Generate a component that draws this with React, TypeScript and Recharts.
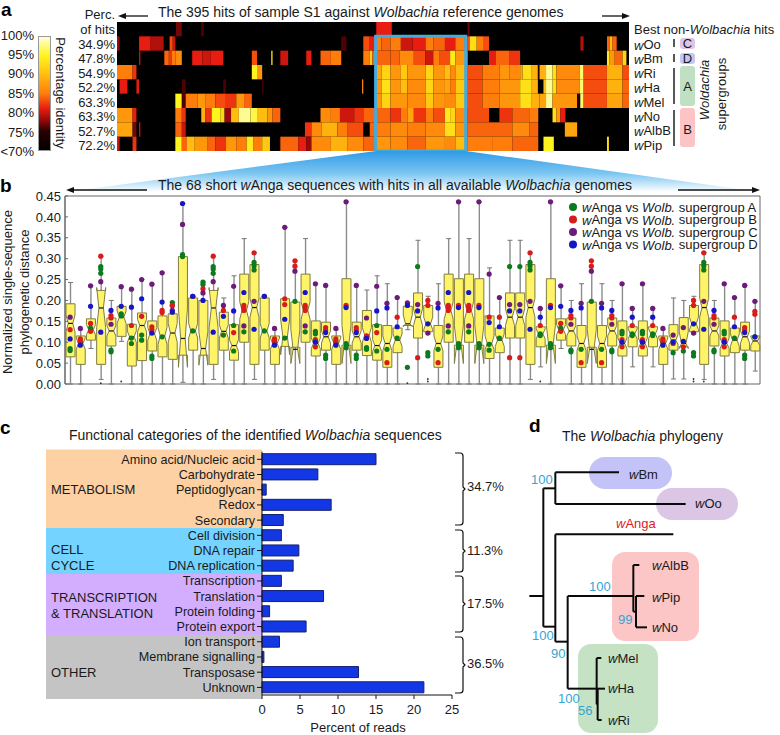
import React from 'react';
import { Bar, BarChart, Cell, ComposedChart, ReferenceArea, ReferenceLine, Scatter, XAxis, YAxis } from 'recharts';

const FONT = '"Liberation Sans", Arial, sans-serif';

// ---- panel a: runs of [first hit, last hit, % identity]
const hitsBest = [[45.5, 50, 77], [65, 67, 76], [200, 212, 81], [270.5, 272, 77]];
const hitsOo = [[0, 2, 78], [17, 26, 81], [26, 36, 79], [40.6, 43, 83], [43, 45, 80], [173, 177, 76], [190, 195, 83], [195, 200, 81], [200, 204, 85], [204, 211, 84], [211, 219, 85], [219, 228, 80], [228, 238, 81], [238, 244, 85], [244, 253, 84], [253, 261, 81], [261, 268, 85], [268, 270.5, 86], [270.5, 272, 83], [272, 277.5, 93], [277.5, 283, 85], [283, 287, 83], [357.5, 360, 79], [378, 380, 84], [380, 382, 90], [382, 385.5, 84]];
const hitsBm = [[17, 18, 80], [36.5, 40, 84], [40, 42, 82], [42, 45, 85], [45, 50, 86], [58, 66, 81], [66, 72, 80], [72, 82, 81], [104, 108, 83], [119, 120, 94], [126, 132, 80], [146, 150, 81], [157, 165, 84], [165, 173, 85], [190, 195, 85], [195, 197, 92], [197, 200, 84], [200, 211, 84], [211, 218, 84], [218, 229, 86], [229, 238, 83], [238, 244, 80], [244, 249, 85], [249, 257, 83], [257, 261, 94], [261, 270.5, 87], [287, 292, 81], [292, 303, 84], [303, 311, 82], [378, 380, 94], [380, 384, 87], [384, 390, 84], [390, 393, 92]];
const hitsRi = [[0, 12, 85], [12, 15, 82], [104, 108, 95], [108, 112, 87], [200, 204, 88], [204, 211, 92], [211, 219, 87], [219, 224, 91], [224, 238, 87], [238, 244, 92], [244, 253, 87], [253, 257, 90], [257, 261, 86], [261, 270.5, 90], [270.5, 282, 83], [282, 295, 85], [295, 303, 87], [303, 311, 86], [311, 313, 88], [313, 320, 93], [320, 324.7, 89], [324.7, 326, 74], [326, 331, 89], [331, 336, 98], [336, 339, 93], [339, 357, 86], [357, 360, 97], [360, 378, 83], [378, 390, 89], [390, 395, 83]];
const hitsHa = [[2, 8, 81], [15, 17, 81], [50, 53, 76], [82, 84, 76], [112, 113, 76], [189, 190, 85], [200, 204, 87], [204, 211, 93], [211, 219, 87], [219, 224, 90], [224, 238, 86], [238, 244, 92], [244, 253, 87], [253, 257, 88], [257, 261, 85], [261, 270.5, 91], [270.5, 282, 83], [282, 295, 85], [295, 311, 87], [311, 320, 93], [320, 324.7, 89], [329, 331, 90], [331, 336, 98], [336, 339, 93], [339, 357, 86], [357, 360, 97], [360, 378, 83], [378, 390, 89], [390, 395, 84]];
const hitsMel = [[45, 50, 95], [50, 53, 76], [53, 62, 85], [62, 68, 87], [68, 76, 85], [76, 84, 83], [84, 92, 82], [92, 98, 87], [98, 104, 84], [200, 204, 87], [204, 211, 92], [211, 224, 87], [224, 238, 86], [238, 244, 91], [244, 253, 87], [253, 261, 86], [261, 270.5, 91], [270.5, 282, 83], [282, 295, 85], [295, 311, 87], [311, 320, 93], [320, 326, 89], [326, 331, 88], [331, 336, 98], [336, 355, 87], [355, 357.4, 74], [357.4, 360, 97], [360, 378, 83], [378, 390, 88], [390, 395, 84]];
const hitsNo = [[0, 12, 87], [12, 15, 81], [45, 50, 85], [50, 53, 82], [65, 68, 89], [68, 73, 82], [73, 80, 95], [80, 83, 92], [83, 88, 78], [88, 94, 90], [94, 103, 98], [103, 108, 96], [108, 116, 90], [116, 120, 87], [120, 126, 84], [157, 165, 86], [165, 172, 85], [172, 183, 80], [183, 190, 82], [190, 200, 84], [200, 211, 84], [211, 219, 82], [219, 224, 85], [224, 229, 88], [229, 238, 82], [238, 244, 85], [244, 253, 83], [253, 257, 94], [257, 261, 92], [261, 270.5, 86], [270.5, 287, 83], [295, 305, 82], [305, 318, 84], [318, 325, 85], [336, 339, 93], [339, 342, 87], [342, 346, 81]];
const hitsAlbB = [[0, 12, 88], [12, 15, 77], [17, 18, 80], [45, 50, 84], [50, 53, 80], [145, 150, 82], [150, 158, 86], [158, 170, 89], [170, 178, 85], [178, 190, 83], [195, 200, 84], [200, 211, 85], [211, 224, 86], [224, 238, 85], [238, 253, 86], [253, 261, 93], [261, 270.5, 87], [270.5, 287, 84], [287, 305, 84], [305, 318, 86], [318, 325, 84], [345.5, 355, 88]];
const hitsPip = [[0, 2, 80], [12, 15, 82], [45, 50, 95], [50, 54, 84], [54, 60, 90], [60, 70, 87], [70, 76, 84], [76, 84, 82], [84, 92, 87], [92, 100, 85], [100, 105, 94], [105, 112, 85], [112, 118, 91], [126, 140, 84], [140, 146, 81], [146, 150, 78], [150, 165, 86], [165, 178, 89], [178, 190, 86], [190, 200, 84], [200, 211, 87], [211, 224, 86], [224, 238, 84], [238, 253, 87], [253, 261, 86], [261, 270.5, 90], [270.5, 290, 85], [290, 305, 85], [305, 325, 84], [329, 337, 95], [378, 379.5, 93]];
const heatRows = [hitsBest, hitsOo, hitsBm, hitsRi, hitsHa, hitsMel, hitsNo, hitsAlbB, hitsPip];
const identityStops = [[70, [0, 0, 0]], [75, [40, 0, 0]], [78, [150, 10, 10]], [81, [232, 28, 16]], [85, [255, 125, 10]], [90, [255, 190, 15]], [95, [255, 245, 30]], [100, [255, 255, 225]]];
const colorTicks = ['100%', '95%', '90%', '85%', '80%', '75%', '<70%'];
const percOfHits = ['34.9%', '47.8%', '54.9%', '52.2%', '63.3%', '63.3%', '52.7%', '72.2%'];
const genomes = ['Oo', 'Bm', 'Ri', 'Ha', 'Mel', 'No', 'AlbB', 'Pip'];

// ---- panel b: [whisker low, q1, notch low, median, notch high, q3, whisker high]
const boxStats: Record<string, number[]> = {
  b1: [0, 0.065, 0.125, 0.145, 0.165, 0.192, 0.243], b2: [0, 0.047, 0.083, 0.097, 0.11, 0.115, 0.13],
  b3: [0.085, 0.105, 0.118, 0.13, 0.142, 0.156, 0.235], b4: [0.011, 0.047, 0.135, 0.182, 0.231, 0.224, 0.306],
  b5: [0, 0.091, 0.115, 0.127, 0.14, 0.158, 0.2], b6: [0.102, 0.114, 0.145, 0.16, 0.175, 0.186, 0.233],
  b7: [0, 0.043, 0.1, 0.113, 0.127, 0.143, 0.227], b8: [0, 0.056, 0.125, 0.14, 0.155, 0.17, 0.25],
  b9: [0, 0.079, 0.105, 0.12, 0.135, 0.151, 0.239], b10: [0, 0.065, 0.095, 0.115, 0.135, 0.163, 0.266],
  b11: [0, 0.059, 0.1, 0.122, 0.145, 0.168, 0.195], b12: [0.004, 0.069, 0.04, 0.109, 0.18, 0.305, 0.432],
  b13: [0, 0.081, 0.11, 0.127, 0.145, 0.206, 0.21], b14: [0, 0.069, 0.045, 0.085, 0.125, 0.2, 0.244],
  b16: [0, 0.081, 0.11, 0.126, 0.142, 0.172, 0.206], b17: [0, 0.057, 0.078, 0.092, 0.106, 0.142, 0.259],
  b18: [0, 0.1, 0.155, 0.176, 0.197, 0.263, 0.348], b19: [0.011, 0.047, 0.16, 0.183, 0.205, 0.286, 0.314],
  b22: [0, 0.09, 0.07, 0.113, 0.155, 0.204, 0.375], b23: [0, 0.088, 0.049, 0.083, 0.13, 0.196, 0.295],
  b25: [0, 0.067, 0.085, 0.097, 0.11, 0.151, 0.24], b26: [0, 0.081, 0.098, 0.113, 0.127, 0.148, 0.236],
  b28: [0, 0.093, 0.049, 0.093, 0.14, 0.252, 0.436], b30: [0, 0.068, 0.1, 0.117, 0.135, 0.176, 0.225],
  b32: [0, 0.04, 0.08, 0.097, 0.115, 0.14, 0.24], b33: [0, 0.075, 0.09, 0.105, 0.12, 0.134, 0.207],
  b34: [0.13, 0.14, 0.137, 0.144, 0.165, 0.186, 0.194], b35: [0, 0.11, 0.14, 0.16, 0.18, 0.218, 0.344],
  b36: [0.12, 0.125, 0.13, 0.144, 0.16, 0.188, 0.21], b42: [0, 0.061, 0.082, 0.097, 0.115, 0.163, 0.278],
  b47: [0.041, 0.089, 0.108, 0.12, 0.132, 0.137, 0.181], b60: [0.012, 0.081, 0.095, 0.105, 0.118, 0.142, 0.206],
  b61: [0.012, 0.089, 0.085, 0.097, 0.125, 0.159, 0.2], b68: [0.031, 0.079, 0.092, 0.103, 0.113, 0.115, 0.198],
};
const groupA: Record<string, number[]> = { b1: [0.085, 0.08], b2: [0.1], b3: [0.134], b4: [0.281, 0.275, 0.265], b5: [0.081, 0.077], b6: [0.168, 0.163], b7: [0.11, 0.097], b8: [0.117, 0.105], b9: [0.067, 0.061], b10: [0.113], b11: [0.195, 0.188], b12: [0.31, 0.305], b13: [0.127], b14: [0.244, 0.238], b16: [0.117], b17: [0.14, 0.079], b18: [0.125], b19: [0.291, 0.283, 0.273], b22: [0.11], b23: [0.198], b25: [0.126, 0.12], b26: [0.069, 0.061], b28: [0.097, 0.087], b30: [0.087, 0.083], b32: [0.083], b33: [0.11], b34: [0.04], b35: [0.281], b36: [0.075, 0.067], b42: [0.095, 0.081], b47: [0.12, 0.116], b60: [0.075], b61: [0.079], b68: [0.113] };
const groupB: Record<string, number[]> = { b1: [0.13], b2: [0.108, 0.103], b3: [0.145, 0.126], b4: [0.306], b5: [0.164, 0.158], b7: [0.14], b8: [0.162], b9: [0.137, 0.13], b10: [0.176, 0.171], b11: [0.188], b14: [0.228], b16: [0.176], b17: [0.123], b18: [0.188, 0.183, 0.176], b19: [0.314], b22: [0.204, 0.19], b23: [0.295, 0.282], b25: [0.106, 0.089], b26: [0.135, 0.129], b28: [0.188], b30: [0.115], b32: [0.051], b33: [0.16], b35: [0.063], b36: [0.2, 0.188], b42: [0.16], b47: [0.14], b60: [0.097], b61: [0.089], b68: [0.174, 0.167] };
const groupC: Record<string, number[]> = { b1: [0.16], b2: [0.133], b3: [0.235], b4: [0.245], b5: [0.143], b6: [0.233], b7: [0.227], b8: [0.25], b9: [0.239], b10: [0.266], b11: [0.176], b12: [0.382], b13: [0.21], b14: [0.218], b16: [0.188], b17: [0.234], b18: [0.139], b19: [0.198], b22: [0.375], b23: [0.27], b25: [0.24], b26: [0.236], b28: [0.436], b30: [0.158], b32: [0.193], b33: [0.207], b34: [0.194], b35: [0.19], b36: [0.122], b42: [0.263], b47: [0.181], b60: [0.117], b61: [0.135], b68: [0.198] };
const groupD: Record<string, number[]> = { b1: [0.108], b2: [0.093], b3: [0.186], b4: [0.124], b5: [0.176], b6: [0.186], b7: [0.184], b8: [0.204], b9: [0.122], b10: [0.196], b11: [0.172], b12: [0.432], b13: [0.21], b14: [0.2], b16: [0.162], b17: [0.175], b18: [0.219], b19: [0.131], b22: [0.155], b25: [0.1], b26: [0.123], b28: [0.183], b30: [0.109], b32: [0.182], b33: [0.137], b34: [0.188], b35: [0.175], b36: [0.144], b42: [0.147], b47: [0.16], b60: [0.1], b61: [0.102], b68: [0.113] };
const boxOrder = ['b1', 'b2', 'b3', 'b4', 'b5', 'b6', 'b7', 'b8', 'b9', 'b10', 'b11', 'b12', 'b13', 'b14', 'b4', 'b16', 'b17', 'b18', 'b19', 'b13', 'b2', 'b22', 'b23', 'b18', 'b25', 'b26', 'b2', 'b28', 'b26', 'b30', 'b17', 'b32', 'b33', 'b34', 'b35', 'b36', 'b32', 'b18', 'b28', 'b18', 'b28', 'b42', 'b33', 'b35', 'b35', 'b19', 'b47', 'b28', 'b3', 'b5', 'b32', 'b23', 'b32', 'b5', 'b25', 'b47', 'b25', 'b47', 'b2', 'b60', 'b61', 'b36', 'b19', 'b5', 'b25', 'b33', 'b26', 'b68'];
const fliers = [[4, 0.002], [6, 0.006], [34, 0.002], [36, 0.012], [36, 0.006], [47, 0.006], [62, 0.012], [62, 0.006], [63, 0.006]];
const distanceTicks = [0, 0.05, 0.1, 0.15, 0.2, 0.25, 0.3, 0.35, 0.4, 0.45];
const legendGroups = ['A', 'B', 'C', 'D'];
const groupColors = ['#0c7a1e', '#d81c1c', '#6d1b7b', '#1616c8'];

// ---- panel c
const funcNames = ['Amino acid/Nucleic acid', 'Carbohydrate', 'Peptidoglycan', 'Redox', 'Secondary', 'Cell division', 'DNA repair', 'DNA replication', 'Transcription', 'Translation', 'Protein folding', 'Protein export', 'Ion transport', 'Membrane signalling', 'Transposase', 'Unknown'];
const funcValues = [15, 7.35, 0.55, 9.1, 2.8, 2.55, 4.85, 4.1, 2.55, 8.1, 1.0, 5.8, 2.3, 0.25, 12.7, 21.3];
const readTicks = [0, 5, 10, 15, 20, 25];

// ---- panel d: branches as [x1, y1, x2, y2] in tree units
const branches = [[58, 558, 100, 558], [100, 235, 100, 650], [100, 235, 136, 235], [136, 187, 136, 282], [136, 187, 327, 187], [136, 282, 527, 282], [100, 650, 136, 650], [136, 373, 136, 695], [136, 373, 490, 373], [136, 695, 173, 695], [173, 558, 173, 836], [173, 558, 370, 558], [370, 465, 370, 605], [370, 465, 388, 465], [370, 605, 378, 605], [378, 558, 378, 652], [378, 558, 403, 558], [378, 652, 411, 652], [173, 836, 260, 836], [260, 744, 260, 883], [260, 744, 274, 744], [260, 836, 285, 836], [260, 883, 263, 883], [263, 836, 263, 930], [263, 930, 275, 930]];
const heatExtent = [{ x: 0, y: 0 }, { x: 395, y: 9 }];
const treeExtent = [{ x: 0, y: 0 }, { x: 810, y: 975 }];

const heatColor = (v: number) => {
  for (let i = 1; i < identityStops.length; i++) {
    const [v0, c0] = identityStops[i - 1] as [number, number[]];
    const [v1, c1] = identityStops[i] as [number, number[]];
    if (v <= v1) {
      const t = (v - v0) / (v1 - v0);
      return `rgb(${c0.map((c, k) => Math.round(c + (c1[k] - c) * t)).join(',')})`;
    }
  }
  return '#ffffe1';
};

const boxes = boxOrder.map((name, idx) => {
  const [lo, q1, ciLo, med, ciHi, q3, hi] = boxStats[name];
  return { i: idx + 1, lo, q1, ciLo, med, ciHi, q3, hi };
});
const pointsOf = (group: Record<string, number[]>) =>
  boxOrder.flatMap((name, idx) => (group[name] || []).map(v => ({ i: idx + 1, v })));
const funcData = funcNames.map((name, k) => ({ name, value: funcValues[k] }));

const BoxShape = (props: any) => {
  const { x, y, width, height, payload: d } = props;
  const py = (v: number) => y + (height * (d.q3 - v)) / (d.q3 - d.q1);
  const cx = x + width / 2;
  const l = x, r = x + width, nl = cx - width / 4, nr = cx + width / 4;
  const path = `M${l},${py(d.q1)} L${r},${py(d.q1)} L${r},${py(d.ciLo)} L${nr},${py(d.med)} L${r},${py(d.ciHi)} L${r},${py(d.q3)} L${l},${py(d.q3)} L${l},${py(d.ciHi)} L${nl},${py(d.med)} L${l},${py(d.ciLo)} Z`;
  return (
    <g>
      <line x1={cx} x2={cx} y1={py(d.hi)} y2={py(d.lo)} stroke="#8c8c8c" strokeWidth={1.4} />
      <line x1={cx - 2.5} x2={cx + 2.5} y1={py(d.hi)} y2={py(d.hi)} stroke="#777" />
      <line x1={cx - 2.5} x2={cx + 2.5} y1={py(d.lo)} y2={py(d.lo)} stroke="#777" />
      <path d={path} fill="#fff467" stroke="#7f7c40" strokeWidth={1} />
      <line x1={nl} x2={nr} y1={py(d.med)} y2={py(d.med)} stroke="#111" strokeWidth={1.2} />
    </g>
  );
};

const Dot = (color: string, r = 2.6) => (props: any) => <circle cx={props.cx} cy={props.cy} r={r} fill={color} />;
const NoMark = () => <g />;

const T = ({ x, y, size = 13, anchor = 'start', children, ...rest }: any) => (
  <text x={x} y={y} fontSize={size} textAnchor={anchor} dominantBaseline="central" fill="#1a1a1a" {...rest}>{children}</text>
);
const It = ({ children }: any) => <tspan fontStyle="italic">{children}</tspan>;
const W = ({ name }: any) => <><It>w</It>{name}</>;

const brace = (y1: number, y2: number) => {
  const m = (y1 + y2) / 2;
  return `M455,${y1} h5 q3,0 3,3 V${m - 2} l2,2 l-2,2 V${y2 - 3} q0,3 -3,3 h-5`;
};
const Arrow = ({ x1, x2, y }: any) => {
  const dir = x2 > x1 ? 1 : -1;
  return (
    <g>
      <line x1={x1} x2={x2 - dir * 4} y1={y} y2={y} stroke="#111" strokeWidth={1.3} />
      <path d={`M${x2},${y} l${-dir * 8},-3 v6 z`} fill="#111" />
    </g>
  );
};

const abs = (left: number, top: number, z = 1): React.CSSProperties => ({ position: 'absolute', left, top, zIndex: z });

export default function App() {
  return (
    <div style={{ position: 'absolute', left: 0, top: 0, width: 780, height: 735, background: '#fff', fontFamily: FONT, overflow: 'hidden' }}>
      {/* backgrounds */}
      <svg width={780} height={735} style={abs(0, 0, 0)}>
        <defs>
          <linearGradient id="funnel" x1="0" y1="0" x2="0" y2="1">
            <stop offset="0" stopColor="#2f9be6" />
            <stop offset="0.55" stopColor="#7cc6f2" />
            <stop offset="1" stopColor="#ffffff" />
          </linearGradient>
          <linearGradient id="cbar" x1="0" y1="0" x2="0" y2="1">
            {[100, 95, 90, 85, 81, 78, 75, 70].map(v => <stop key={v} offset={(100 - v) / 30} stopColor={heatColor(v)} />)}
          </linearGradient>
        </defs>
        <polygon points="376,151 466,151 760,192 65,192" fill="url(#funnel)" />
        <rect x={38.5} y={36.5} width={12} height={114} fill="url(#cbar)" stroke="#999" />
        <rect x={680} y={38} width={15} height={11} rx={3} fill="#dcc5e6" />
        <rect x={680} y={53} width={15} height={11} rx={3} fill="#c6c6f5" />
        <rect x={680} y={66} width={15} height={40} rx={3} fill="#bfe0c2" />
        <rect x={680} y={108} width={15} height={39} rx={3} fill="#fdc4c6" />
        <rect x={46} y={449.5} width={216} height={78.5} fill="#fdd1a3" />
        <rect x={46} y={528} width={216} height={46} fill="#74d3ff" />
        <rect x={46} y={574} width={216} height={61} fill="#d3aeff" />
        <rect x={46} y={635} width={216} height={64} fill="#c4c4c4" />
        <rect x={589} y={457} width={83} height={32} rx={16} fill="#c3c3f7" />
        <rect x={656} y={488} width={82} height={32} rx={16} fill="#dcc6e6" />
        <rect x={612} y={552} width={87} height={89} rx={13} fill="#fdc6c6" />
        <rect x={578} y={644} width={80} height={89} rx={13} fill="#c5e2c5" />
      </svg>

      {/* a: heat map */}
      <div style={abs(117, 22)}>
        <ComposedChart width={512} height={129} data={heatExtent} margin={{ top: 0, right: 0, bottom: 0, left: 0 }}>
          <XAxis type="number" dataKey="x" domain={[0, 395]} hide />
          <YAxis type="number" domain={[0, 9]} reversed hide />
          <Scatter dataKey="y" shape={NoMark} isAnimationActive={false} />
          <ReferenceArea x1={0} x2={395} y1={0} y2={9} fill="#000" fillOpacity={1} stroke="none" />
          {heatRows.flatMap((row, r) => row.map(([a, b, v], k) => (
            <ReferenceArea key={`${r}-${k}`} x1={a} x2={b} y1={r} y2={r + 1} fill={heatColor(v)} fillOpacity={1} stroke="none" />
          )))}
          <ReferenceArea x1={199.5} x2={269} y1={1} y2={9} fill="none" fillOpacity={0} stroke="#45abdc" strokeWidth={3} ifOverflow="visible" />
        </ComposedChart>
      </div>

      {/* b: boxes */}
      <div style={abs(0, 190)}>
        <ComposedChart width={770} height={212} data={boxes} margin={{ top: 6, right: 10, bottom: 18, left: 0 }}>
          <XAxis type="number" dataKey="i" domain={[0.5, 68.5]} ticks={boxes.map(b => b.i)} tick={false} tickSize={-2} height={0} stroke="#666" />
          <YAxis type="number" domain={[0, 0.45]} ticks={distanceTicks} width={65} tickSize={-3} tickMargin={7} tickFormatter={(v: number) => v.toFixed(2)} tick={{ fontSize: 13, fill: '#1a1a1a' }} stroke="#666" interval={0} />
          <ReferenceArea x1={0.5} x2={68.5} y1={0} y2={0.45} fill="none" fillOpacity={0} stroke="#666" strokeWidth={1} ifOverflow="visible" />
          <Bar dataKey={(d: any) => [d.q1, d.q3]} barSize={9} shape={BoxShape} isAnimationActive={false} />
          <Scatter data={fliers.map(([i, v]) => ({ i, v }))} dataKey="v" shape={Dot('#333', 0.9)} isAnimationActive={false} />
          {[groupA, groupB, groupC, groupD].map((g, k) => (
            <Scatter key={k} data={pointsOf(g)} dataKey="v" shape={Dot(groupColors[k])} isAnimationActive={false} />
          ))}
        </ComposedChart>
      </div>

      {/* c: bars */}
      <div style={abs(0, 440)}>
        <BarChart width={500} height={290} layout="vertical" data={funcData} margin={{ top: 11.7, right: 48, bottom: 15, left: 0 }}>
          <XAxis type="number" domain={[0, 25]} ticks={readTicks} height={20} tickSize={4} tickMargin={6} tick={{ fontSize: 13, fill: '#1a1a1a' }} stroke="#111" />
          <YAxis type="category" dataKey="name" width={262} interval={0} tickSize={5} tickMargin={2} tick={{ fontSize: 12.6, fill: '#1a1a1a' }} stroke="#111" />
          <Bar dataKey="value" barSize={11} fill="#1437e6" stroke="#14206e" strokeWidth={1} isAnimationActive={false}>
            {funcData.map((d, k) => <Cell key={k} fill="#1437e6" />)}
          </Bar>
        </BarChart>
      </div>

      {/* d: tree */}
      <div style={abs(510, 410)}>
        <ComposedChart width={270} height={325} data={treeExtent} margin={{ top: 0, right: 0, bottom: 0, left: 0 }}>
          <XAxis type="number" dataKey="x" domain={[0, 810]} hide />
          <YAxis type="number" domain={[0, 975]} reversed hide />
          <Scatter dataKey="y" shape={NoMark} isAnimationActive={false} />
          {branches.map(([x1, y1, x2, y2], k) => (
            <ReferenceLine key={k} segment={[{ x: x1, y: y1 }, { x: x2, y: y2 }]} stroke="#0a0a0a" strokeWidth={2} />
          ))}
        </ComposedChart>
      </div>

      {/* text */}
      <svg width={780} height={735} style={{ ...abs(0, 0, 2), fontFamily: FONT, pointerEvents: 'none' }}>
        <T x={1} y={9} size={19} fontWeight="bold" fill="#000">a</T>
        <T x={0} y={185} size={19} fontWeight="bold" fill="#000">b</T>
        <T x={0} y={427} size={19} fontWeight="bold" fill="#000">c</T>
        <T x={529} y={425} size={19} fontWeight="bold" fill="#000">d</T>

        <T x={158} y={12} size={14}>The 395 hits of sample S1 against <It>Wolbachia</It> reference genomes</T>
        <Arrow x1={148} x2={118} y={16} />
        <Arrow x1={602} x2={630} y={16} />
        <T x={115} y={14} anchor="end">Perc.</T>
        <T x={115} y={29} anchor="end">of hits</T>
        {percOfHits.map((p, k) => <T key={k} x={115} y={44.5 + k * 14.45} anchor="end">{p}</T>)}
        {colorTicks.map((p, k) => <T key={p} x={34} y={35 + k * 19.4} anchor="end">{p}</T>)}
        <T x={60} y={93} anchor="middle" transform="rotate(90 60 93)">Percentage identity</T>
        <T x={634} y={29}>Best non-<It>Wolbachia</It> hits</T>
        {genomes.map((g, k) => <T key={g} x={634} y={44.5 + k * 14.4}><W name={g} /></T>)}
        {[[39, 47], [54, 62], [68, 104], [110, 146]].map(([a, b], k) => (
          <line key={k} x1={674} x2={674} y1={a} y2={b} stroke="#111" strokeWidth={1.4} />
        ))}
        <T x={687.5} y={43.5} anchor="middle">C</T>
        <T x={687.5} y={58.5} anchor="middle">D</T>
        <T x={687.5} y={86} anchor="middle">A</T>
        <T x={687.5} y={129} anchor="middle">B</T>
        <g transform="rotate(-90 704 90)"><T x={704} y={90} anchor="middle"><It>Woldachia</It></T></g>
        <g transform="rotate(-90 721 94)"><T x={721} y={94} anchor="middle">supergroups</T></g>

        <T x={158} y={185} size={14}>The 68 short <W name="Anga" /> sequences with hits in all available <It>Wolbachia</It> genomes</T>
        <Arrow x1={147} x2={66} y={190} />
        <Arrow x1={678} x2={760} y={190} />
        <g transform="rotate(-90 7 292)"><T x={7} y={292} anchor="middle">Normalized single-sequence</T></g>
        <g transform="rotate(-90 24 292)"><T x={24} y={292} anchor="middle">phylogenetic distance</T></g>
        {legendGroups.map((g, k) => (
          <g key={g}>
            <circle cx={573} cy={207 + k * 12.5} r={4} fill={groupColors[k]} />
            <T x={582} y={207 + k * 12.5}><W name="Anga" /> vs <It>Wolb.</It> supergroup {g}</T>
          </g>
        ))}

        <T x={69} y={435} size={14}>Functional categories of the identified <It>Wolbachia</It> sequences</T>
        <T x={51} y={489}>METABOLISM</T>
        <T x={51} y={549}>CELL</T>
        <T x={51} y={565}>CYCLE</T>
        <T x={51} y={597}>TRANSCRIPTION</T>
        <T x={51} y={613}>&amp; TRANSLATION</T>
        <T x={51} y={672}>OTHER</T>
        <T x={358} y={727} anchor="middle">Percent of reads</T>
        {[[453, 525, '34.7%', 486], [530, 572, '11.3%', 550], [576, 632, '17.5%', 603], [637, 693, '36.5%', 663]].map(([a, b, label, y]: any) => (
          <g key={label}>
            <path d={brace(a, b)} fill="none" stroke="#111" strokeWidth={1.2} />
            <T x={467} y={y}>{label}</T>
          </g>
        ))}

        <T x={562} y={436} size={14}>The <It>Wolbachia</It> phylogeny</T>
        <T x={629} y={474}><W name="Bm" /></T>
        <T x={695} y={503}><W name="Oo" /></T>
        <T x={616} y={523} fill="#e01b1b"><W name="Anga" /></T>
        <T x={652} y={565}><W name="AlbB" /></T>
        <T x={652} y={597}><W name="Pip" /></T>
        <T x={652} y={627}><W name="No" /></T>
        <T x={608} y={658}><W name="Mel" /></T>
        <T x={608} y={688}><W name="Ha" /></T>
        <T x={608} y={720}><W name="Ri" /></T>
        {[[531, 479, '100'], [589, 586, '100'], [618, 619, '99'], [532, 635, '100'], [551, 653, '90'], [558, 698, '100'], [578, 710, '56']].map(([x, y, l]: any, k) => (
          <T key={k} x={x} y={y} fill="#33a5d2">{l}</T>
        ))}
      </svg>
    </div>
  );
}
